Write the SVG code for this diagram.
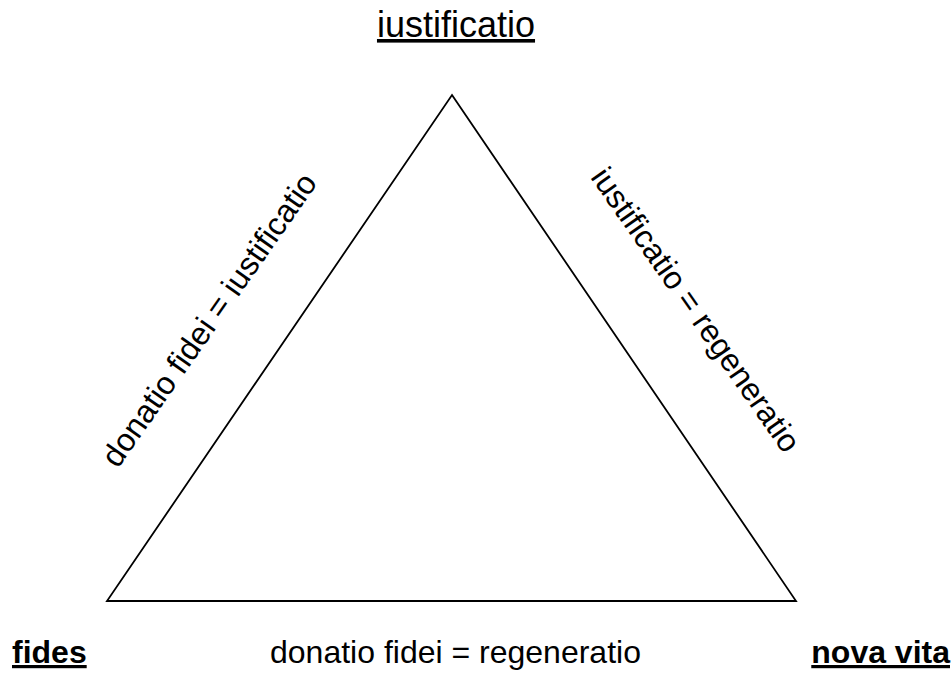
<svg xmlns="http://www.w3.org/2000/svg" width="952" height="675" viewBox="0 0 952 675">
<style>
text{font-family:"Liberation Sans",Arial,sans-serif;fill:#000}
.lbl{font-size:32px}
.b{font-weight:bold}
.u{text-decoration:underline}
.edge{fill:none;stroke:#000;stroke-width:1.8;stroke-linejoin:miter}
</style>
<rect width="952" height="675" fill="#fff"/>
<g id="connectors">
<polygon class="edge" points="452,95 796,601 107,601"/>
</g>
<g id="node-iustificatio"><text class="u" x="456" y="37" font-size="36" text-anchor="middle">iustificatio</text></g>
<g id="node-fides"><text class="lbl b u" x="12" y="663">fides</text></g>
<g id="node-nova-vita"><text class="lbl b u" x="950" y="663" text-anchor="end">nova vita</text></g>
<g id="label-left"><text class="lbl" text-anchor="middle" transform="translate(218,326) rotate(-55)">donatio fidei = iustificatio</text></g>
<g id="label-right"><text class="lbl" text-anchor="middle" transform="translate(687,316) rotate(55)">iustificatio = regeneratio</text></g>
<g id="label-bottom"><text class="lbl" x="270" y="663">donatio fidei = regeneratio</text></g>
</svg>
